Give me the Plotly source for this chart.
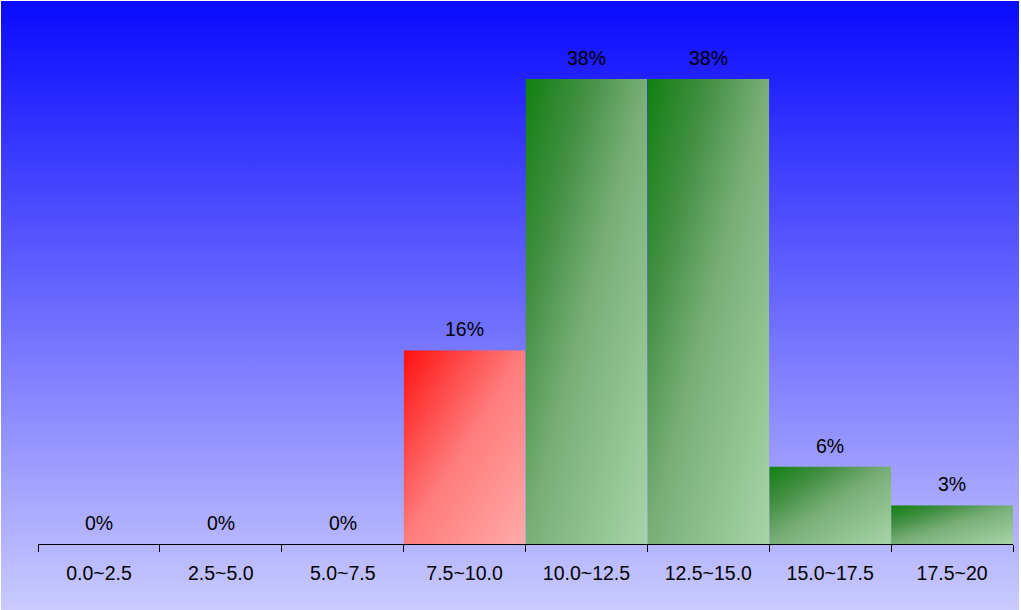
import urllib.parse
import plotly.graph_objects as go

# histogram bins and share of samples (%)
bins = ["0.0~2.5", "2.5~5.0", "5.0~7.5", "7.5~10.0",
        "10.0~12.5", "12.5~15.0", "15.0~17.5", "17.5~20"]
shares = [0, 0, 0, 15.625, 37.5, 37.5, 6.25, 3.125]
labels = ["0%", "0%", "0%", "16%", "38%", "38%", "6%", "3%"]
bar_tone = ["green", "green", "green", "red", "green", "green", "green", "green"]

W, H = 1021, 610
ML, MR, MT, MB = 38, 8, 0, 66

# gradient stops (offset, colour), top-left corner to bottom-right corner
gradients = {
    "red": [(0, "#ff1010"), (0.5, "#ff7c7c"), (1, "#ffaaaa")],
    "green": [(0, "#108010"), (0.25, "#428f42"), (0.5, "#78ae78"), (1, "#a8d4a8")],
}
page_grad = [(0, "#0a0aff"), (1, "#cacaff")]


def svg_gradient(stops, x2=1, y2=1):
    stop_tags = "".join(
        '<stop offset="%s" stop-color="%s"/>' % (o, c) for o, c in stops
    )
    svg = (
        '<svg xmlns="http://www.w3.org/2000/svg" width="100" height="100" '
        'viewBox="0 0 100 100" preserveAspectRatio="none">'
        '<defs><linearGradient id="g" x1="0" y1="0" x2="%s" y2="%s">%s'
        '</linearGradient></defs>'
        '<rect width="100" height="100" fill="url(#g)"/></svg>'
    ) % (x2, y2, stop_tags)
    return "data:image/svg+xml;charset=utf-8," + urllib.parse.quote(svg)


fig = go.Figure()

fig.add_trace(go.Bar(
    x=bins,
    y=shares,
    marker=dict(color="rgba(0,0,0,0)", line=dict(width=0)),
    hovertemplate="%{x}: %{y}%<extra></extra>",
))

pw = W - ML - MR
ph = H - MT - MB

# page background, top to bottom
images = [dict(
    source=svg_gradient(page_grad, x2=0, y2=1),
    xref="paper", yref="paper",
    x=(1 - ML) / pw, y=1 + (MT - 1) / ph,
    sizex=(W - 3) / pw, sizey=(H - 1) / ph,
    xanchor="left", yanchor="top",
    sizing="stretch", layer="below",
)]

# diagonal gradient fill of each bar
for i, (v, tone) in enumerate(zip(shares, bar_tone)):
    if v <= 0:
        continue
    images.append(dict(
        source=svg_gradient(gradients[tone]),
        xref="x", yref="y",
        x=i - 0.5, y=v,
        sizex=1, sizey=v,
        xanchor="left", yanchor="top",
        sizing="stretch", layer="below",
    ))

annotations = []
for b, v, t in zip(bins, shares, labels):
    annotations.append(dict(
        x=b, y=v, text=t, showarrow=False,
        yanchor="bottom", yshift=8,
        font=dict(family="Liberation Sans, Arial", size=19.5, color="black"),
    ))

fig.update_layout(
    width=W, height=H,
    margin=dict(l=ML, r=MR, t=MT, b=MB),
    paper_bgcolor="white",
    plot_bgcolor="rgba(0,0,0,0)",
    bargap=0,
    showlegend=False,
    images=images,
    annotations=annotations,
    font=dict(family="Liberation Sans, Arial", size=19.5, color="black"),
    xaxis=dict(
        type="category",
        range=[-0.5, 7.5],
        tickson="boundaries",
        ticks="outside", ticklen=7, tickcolor="black", tickwidth=1,
        showline=True, linecolor="black", linewidth=1,
        showgrid=False, zeroline=False,
        ticklabelstandoff=12,
        tickfont=dict(family="Liberation Sans, Arial", size=19.5, color="black"),
    ),
    yaxis=dict(
        range=[0, 43.87],
        visible=False,
        showgrid=False, zeroline=False,
    ),
)

# drop the default page margin so the figure sits at the window corner
fig.write_html(
    "out.html",
    config={"displayModeBar": False},
    post_script="document.body.style.margin='0';",
)
